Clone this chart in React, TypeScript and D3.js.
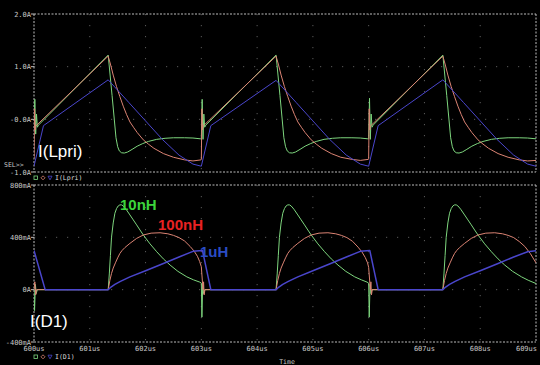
import React from 'react';
import * as d3 from 'd3';

// ---------- axis data ----------
const xTicks = [600, 601, 602, 603, 604, 605, 606, 607, 608, 609];
const xTickLabels = ['600us', '601us', '602us', '603us', '604us', '605us', '606us', '607us', '608us', '609us'];
const topTicks = [2, 1, 0, -1];
const topTickLabels = ['2.0A', '1.0A', '-0.0A', '-1.0A'];
const botTicks = [800, 400, 0, -400];
const botTickLabels = ['800mA', '400mA', '0A', '-400mA'];
const seriesNames = ['10nH', '100nH', '1uH'];

// ---------- I(Lpri) [us, A] ----------
const lpri10n: [number, number][] = [
  [600.0, -0.2], [600.015, 0.38], [600.03, -0.28], [600.045, 0.1], [600.06, -0.15], [600.08, -0.11],
  [601.33, 1.22], [601.4, 0.45], [601.47, -0.35], [601.5, -0.52], [601.53, -0.6], [601.57, -0.635], [601.62, -0.64], [601.68, -0.62], [601.76, -0.57], [601.85, -0.51], [601.95, -0.46], [602.05, -0.42], [602.2, -0.38], [602.35, -0.36], [602.5, -0.35], [602.7, -0.35], [602.85, -0.355], [602.985, -0.37],
  [603.0, -0.37], [603.015, 0.38], [603.03, -0.38], [603.045, 0.1], [603.06, -0.15], [603.08, -0.11],
  [604.34, 1.22], [604.41, 0.45], [604.48, -0.35], [604.51, -0.52], [604.54, -0.6], [604.58, -0.635], [604.63, -0.64], [604.69, -0.62], [604.77, -0.57], [604.86, -0.51], [604.96, -0.46], [605.06, -0.42], [605.2, -0.38], [605.35, -0.36], [605.5, -0.35], [605.7, -0.35], [605.85, -0.355], [605.985, -0.37],
  [606.0, -0.37], [606.015, 0.4], [606.03, -0.38], [606.045, 0.1], [606.06, -0.15], [606.08, -0.11],
  [607.33, 1.22], [607.4, 0.45], [607.47, -0.35], [607.5, -0.52], [607.53, -0.6], [607.57, -0.635], [607.62, -0.64], [607.68, -0.62], [607.76, -0.57], [607.85, -0.51], [607.95, -0.46], [608.05, -0.42], [608.2, -0.38], [608.35, -0.36], [608.5, -0.35], [608.7, -0.35], [608.85, -0.355], [609.0, -0.37],
];
const lpri100n: [number, number][] = [
  [600.0, -0.74], [600.01, 0.2], [600.02, -0.2], [600.03, -0.13],
  [601.33, 1.2], [601.37, 1.05], [601.42, 0.84], [601.48, 0.62], [601.54, 0.43], [601.6, 0.25], [601.66, 0.09], [601.72, -0.05], [601.79, -0.16], [601.85, -0.25], [601.96, -0.39], [602.05, -0.47], [602.15, -0.55], [602.32, -0.65], [602.5, -0.72], [602.7, -0.77], [602.85, -0.79], [602.995, -0.77],
  [603.0, -0.76], [603.01, 0.2], [603.02, -0.2], [603.03, -0.13],
  [604.34, 1.2], [604.38, 1.05], [604.43, 0.84], [604.49, 0.62], [604.55, 0.43], [604.61, 0.25], [604.67, 0.09], [604.73, -0.05], [604.8, -0.16], [604.86, -0.25], [604.97, -0.39], [605.06, -0.47], [605.16, -0.55], [605.33, -0.65], [605.5, -0.72], [605.7, -0.76], [605.85, -0.78], [605.995, -0.76],
  [606.0, -0.75], [606.01, 0.2], [606.02, -0.2], [606.03, -0.13],
  [607.33, 1.2], [607.37, 1.05], [607.42, 0.84], [607.48, 0.62], [607.54, 0.43], [607.6, 0.25], [607.66, 0.09], [607.72, -0.05], [607.79, -0.16], [607.85, -0.25], [607.96, -0.39], [608.05, -0.47], [608.15, -0.55], [608.32, -0.65], [608.5, -0.72], [608.7, -0.77], [608.85, -0.79], [609.0, -0.78],
];
const lpri1u: [number, number][] = [
  [600.0, -0.89], [600.17, -0.12], [601.33, 0.75], [601.7, 0.32], [602.0, -0.03], [602.3, -0.38], [602.6, -0.68], [602.85, -0.85], [603.0, -0.89],
  [603.17, -0.12], [604.34, 0.74], [604.7, 0.32], [605.0, -0.03], [605.3, -0.38], [605.6, -0.68], [605.85, -0.85], [606.0, -0.89],
  [606.17, -0.12], [607.33, 0.75], [607.7, 0.32], [608.0, -0.03], [608.3, -0.38], [608.6, -0.68], [608.85, -0.85], [609.0, -0.89],
];

// ---------- I(D1) [us, mA] ----------
const d1_10n: [number, number][] = [
  [600.0, 0], [600.01, -160], [600.025, 40], [600.04, -30], [600.06, 0],
  [601.33, 0], [601.35, 120], [601.37, 260], [601.39, 400], [601.42, 510], [601.45, 584], [601.48, 620], [601.51, 640], [601.54, 648], [601.57, 648], [601.6, 640], [601.65, 615], [601.72, 571], [601.78, 533], [601.84, 495], [601.9, 456], [601.96, 418], [602.08, 350], [602.2, 290], [602.32, 235], [602.44, 188], [602.58, 140], [602.74, 98], [602.86, 75], [602.97, 58],
  [603.0, 50], [603.01, -210], [603.025, 40], [603.04, -30], [603.06, 0],
  [604.34, 0], [604.36, 120], [604.38, 260], [604.4, 400], [604.43, 510], [604.46, 584], [604.49, 620], [604.52, 640], [604.55, 648], [604.58, 648], [604.61, 640], [604.66, 615], [604.73, 571], [604.79, 533], [604.85, 495], [604.91, 456], [604.97, 418], [605.09, 350], [605.21, 290], [605.33, 235], [605.45, 188], [605.59, 140], [605.75, 98], [605.87, 75], [605.97, 58],
  [606.0, 50], [606.01, -210], [606.025, 40], [606.04, -30], [606.06, 0],
  [607.33, 0], [607.35, 120], [607.37, 260], [607.39, 400], [607.42, 510], [607.45, 584], [607.48, 620], [607.51, 640], [607.54, 648], [607.57, 648], [607.6, 640], [607.65, 615], [607.72, 571], [607.78, 533], [607.84, 495], [607.9, 456], [607.96, 418], [608.08, 350], [608.2, 290], [608.32, 235], [608.44, 188], [608.58, 140], [608.74, 98], [608.86, 72], [609.0, 47],
];
const d1_100n: [number, number][] = [
  [600.0, 0], [600.015, 60], [600.03, -40], [600.045, 0],
  [601.33, 0], [601.36, 70], [601.39, 124], [601.42, 165], [601.46, 205], [601.5, 243], [601.54, 277], [601.58, 300], [601.63, 322], [601.72, 354], [601.84, 392], [601.96, 418], [602.1, 432], [602.26, 435], [602.4, 427], [602.5, 415], [602.6, 398], [602.7, 372], [602.8, 330], [602.87, 295], [602.93, 255], [602.97, 215],
  [603.0, 175], [603.03, 0], [603.04, 60], [603.05, -40], [603.065, 0],
  [604.34, 0], [604.37, 70], [604.4, 124], [604.43, 165], [604.47, 205], [604.51, 243], [604.55, 277], [604.59, 300], [604.64, 322], [604.73, 354], [604.85, 392], [604.97, 418], [605.11, 432], [605.27, 435], [605.41, 427], [605.51, 415], [605.61, 398], [605.71, 370], [605.81, 325], [605.88, 288], [605.94, 245], [605.98, 205],
  [606.0, 170], [606.03, 0], [606.04, 60], [606.05, -40], [606.065, 0],
  [607.33, 0], [607.36, 70], [607.39, 124], [607.42, 165], [607.46, 205], [607.5, 243], [607.54, 277], [607.58, 300], [607.63, 322], [607.72, 354], [607.84, 392], [607.96, 418], [608.1, 432], [608.26, 435], [608.4, 427], [608.5, 415], [608.6, 398], [608.7, 368], [608.8, 330], [608.9, 275], [609.0, 205],
];
const d1_1u: [number, number][] = [
  [600.0, 300], [600.2, 0],
  [601.33, 0], [601.38, 20], [601.45, 40], [601.55, 63], [601.72, 98], [602.0, 145], [602.32, 200], [602.6, 250], [602.85, 293], [603.02, 300], [603.17, 0],
  [604.34, 0], [604.39, 20], [604.46, 40], [604.56, 63], [604.73, 98], [605.0, 145], [605.32, 200], [605.6, 250], [605.85, 293], [606.02, 300], [606.17, 0],
  [607.33, 0], [607.38, 20], [607.45, 40], [607.55, 63], [607.72, 98], [608.0, 145], [608.32, 200], [608.6, 250], [608.85, 290], [609.0, 298],
];

const W = 540;
const H = 365;
const L = 34;
const R = 536;
const COLORS = ['#7ed67e', '#dc8474', '#4a46cc'];
const LABEL_COLORS = ['#3cd43c', '#e82222', '#2a4cc4'];
const AXIS = '#bdbdbd';
const GRID = '#5a5a5a';
const MONO = 'DejaVu Sans Mono, monospace';

export default function App() {
  const x = d3.scaleLinear().domain([600, 609]).range([L, R]);
  const yTop = d3.scaleLinear().domain([-1, 2]).range([172, 14]);
  const yBot = d3.scaleLinear().domain([-400, 800]).range([342, 185]);

  const lineTop = d3.line<[number, number]>().x(d => x(d[0])).y(d => yTop(d[1]));
  const lineBot = d3.line<[number, number]>().x(d => x(d[0])).y(d => yBot(d[1]));

  const topSeries = [lpri10n, lpri100n, lpri1u];
  const botSeries = [d1_10n, d1_100n, d1_1u];

  const panel = (
    y: d3.ScaleLinear<number, number>,
    ticks: number[],
    labels: string[],
    y0: number,
    y1: number,
    clipId: string,
  ) => (
    <g>
      <clipPath id={clipId}>
        <rect x={L} y={y0} width={R - L} height={y1 - y0} />
      </clipPath>
      {xTicks.slice(1, -1).map(t => (
        <line key={'v' + t} x1={x(t)} x2={x(t)} y1={y0} y2={y1} stroke={GRID} strokeWidth={1} strokeDasharray="1.2,9.8" />
      ))}
      {ticks.slice(1, -1).map(t => (
        <line key={'h' + t} x1={L} x2={R} y1={y(t)} y2={y(t)} stroke={GRID} strokeWidth={1} strokeDasharray="1.2,9.8" />
      ))}
      <line x1={L} x2={R} y1={y0} y2={y0} stroke={AXIS} strokeWidth={1} strokeDasharray="2,1.5" />
      <line x1={L} x2={R} y1={y1} y2={y1} stroke={AXIS} strokeWidth={1} strokeDasharray="2,1.5" />
      <line x1={L} x2={L} y1={y0} y2={y1} stroke={AXIS} strokeWidth={1} strokeDasharray="2,1.5" />
      <line x1={R} x2={R} y1={y0} y2={y1} stroke={AXIS} strokeWidth={1} strokeDasharray="2,1.5" />
      {ticks.map((t, i) => (
        <g key={'t' + t}>
          <line x1={L - 3} x2={L} y1={y(t)} y2={y(t)} stroke={AXIS} />
          <text x={31} y={y(t) + 2.5} fontSize={7} fontFamily={MONO} fill="#c8c8c8" textAnchor="end">
            {labels[i]}
          </text>
        </g>
      ))}
    </g>
  );

  const legend = (yy: number, name: string) => (
    <g>
      <rect x={34} y={yy - 2} width={3.5} height={3.5} fill="none" stroke={COLORS[0]} strokeWidth={0.8} />
      <path d={`M${43},${yy - 2.2} l2,2 l-2,2 l-2,-2 z`} fill="none" stroke={COLORS[1]} strokeWidth={0.8} />
      <path d={`M${48},${yy - 1.8} l4,0 l-2,3.6 z`} fill="none" stroke={COLORS[2]} strokeWidth={0.8} />
      <text x={55} y={yy + 2.2} fontSize={6.5} fontFamily={MONO} fill="#d8d8d8">{name}</text>
    </g>
  );

  return (
    <svg width={W} height={H} style={{ position: 'absolute', left: 0, top: 0, background: '#000' }}>
      <rect x={0} y={0} width={W} height={H} fill="#000" />
      {panel(yTop, topTicks, topTickLabels, 14, 172, 'clipTop')}
      {panel(yBot, botTicks, botTickLabels, 185, 342, 'clipBot')}

      <g clipPath="url(#clipTop)">
        {topSeries.map((s, i) => (
          <path key={i} d={lineTop(s) || ''} fill="none" stroke={COLORS[i]} strokeWidth={1} strokeLinejoin="round" />
        ))}
      </g>
      <g clipPath="url(#clipBot)">
        {botSeries.map((s, i) => (
          <path key={i} d={lineBot(s) || ''} fill="none" stroke={COLORS[i]} strokeWidth={i === 2 ? 1.5 : 1} strokeLinejoin="round" />
        ))}
      </g>

      <text x={4} y={167} fontSize={6.5} fontFamily={MONO} fill="#c8c8c8">SEL&gt;&gt;</text>

      {xTicks.map((t, i) => (
        <text
          key={'xl' + t}
          x={i === xTicks.length - 1 ? 537 : x(t)}
          y={351}
          fontSize={7}
          fontFamily={MONO}
          fill="#c8c8c8"
          textAnchor={i === xTicks.length - 1 ? 'end' : 'middle'}
        >
          {xTickLabels[i]}
        </text>
      ))}
      <text x={287} y={364} fontSize={6.5} fontFamily={MONO} fill="#c8c8c8" textAnchor="middle">Time</text>

      {legend(178, 'I(Lpri)')}
      {legend(357, 'I(D1)')}

      <text x={38} y={157} fontSize={17} fontFamily="Liberation Sans, Arial, sans-serif" fill="#ffffff">I(Lpri)</text>
      <text x={30} y={327} fontSize={17} fontFamily="Liberation Sans, Arial, sans-serif" fill="#ffffff">I(D1)</text>

      <text x={120} y={210} fontSize={15} fontWeight="bold" fontFamily="Liberation Sans, Arial, sans-serif" fill={LABEL_COLORS[0]}>{seriesNames[0]}</text>
      <text x={158} y={229.5} fontSize={15} fontWeight="bold" fontFamily="Liberation Sans, Arial, sans-serif" fill={LABEL_COLORS[1]}>{seriesNames[1]}</text>
      <text x={200} y={257} fontSize={15} fontWeight="bold" fontFamily="Liberation Sans, Arial, sans-serif" fill={LABEL_COLORS[2]}>{seriesNames[2]}</text>
    </svg>
  );
}
